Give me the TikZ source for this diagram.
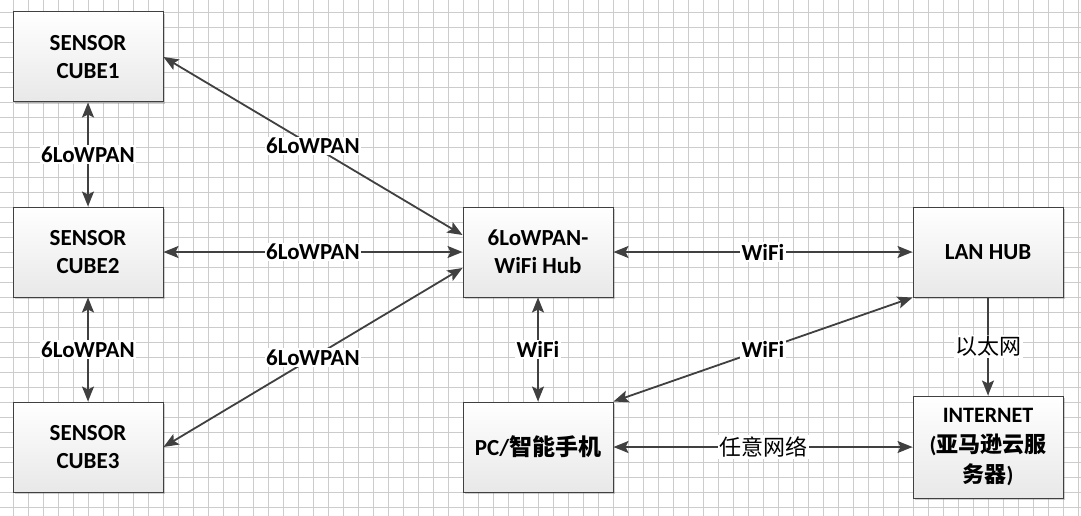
\documentclass[tikz,border=0pt]{standalone}
\usepackage{fontspec}
\setmainfont{Carlito}
\newfontfamily\cjk{Noto Sans CJK SC}
\usetikzlibrary{arrows.meta,shadows}

\tikzset{
  box/.style={draw=black!75, line width=1pt, top color=white, bottom color=black!9,
    minimum width=150pt, minimum height=90pt, inner sep=2pt, align=center,
    font=\fontsize{23}{28}\selectfont\bfseries,
    drop shadow={shadow xshift=2pt, shadow yshift=-2pt, opacity=0.3, fill=black!60}},
  link/.style={draw=black!75, line width=1.8pt},
  lbl/.style={fill=white, inner sep=1.5pt, text=black, font=\fontsize{23}{26}\selectfont\bfseries},
  cjklbl/.style={lbl, font=\fontsize{22}{26}\selectfont\cjk},
  gridline/.style={black!20, line width=0.5pt}
}

\begin{document}
\begin{tikzpicture}[x=1pt, y=-1pt, >={Stealth[length=15pt,width=12pt,inset=3pt]}]
  \useasboundingbox (0,0) rectangle (1081,516);
  \fill[white] (0,0) rectangle (1081,516);

  % grid
  \foreach \gx in {13,28,...,1078}
    \draw[gridline] (\gx,0) -- (\gx,516);
  \foreach \gy in {12,27,...,507}
    \draw[gridline] (0,\gy) -- (1081,\gy);

  % sensor cubes
  \node[box] (cube1) at (88,57) {SENSOR\\CUBE1};
  \node[box] (cube2) at (88,252) {SENSOR\\CUBE2};
  \node[box] (cube3) at (88,447) {SENSOR\\CUBE3};

  % hub and network side
  \node[box] (hub) at (538,252) {6LoWPAN-\\WiFi Hub};
  \node[box] (lan) at (988,252) {LAN HUB};
  \node[box] (pc) at (538,447) {PC/{\cjk\bfseries 智能手机}};
  \node[box, minimum height=102pt, font=\fontsize{22}{30}\selectfont\bfseries] (inet) at (988,447) {INTERNET\\({\cjk\bfseries 亚马逊云服}\\{\cjk\bfseries 务器})};

  % 6LoWPAN links
  \draw[link, <->] (cube1.south) -- (cube2.north) node[midway, lbl] {6LoWPAN};
  \draw[link, <->] (cube2.south) -- (cube3.north) node[midway, lbl] {6LoWPAN};
  \draw[link, <->] (cube1.east) -- ([yshift=17pt]hub.west) node[midway, lbl] {6LoWPAN};
  \draw[link, <->] (cube2.east) -- (hub.west) node[midway, lbl] {6LoWPAN};
  \draw[link, <->] (cube3.east) -- ([yshift=-16pt]hub.west) node[midway, lbl] {6LoWPAN};

  % WiFi links
  \draw[link, <->] (hub.east) -- (lan.west) node[midway, lbl] {WiFi};
  \draw[link, <->] (hub.south) -- (pc.north) node[midway, lbl] {WiFi};
  \draw[link, <->] (pc.north east) -- (lan.south west) node[midway, lbl] {WiFi};

  % internet
  \draw[link, ->] (lan.south) -- (inet.north) node[midway, cjklbl] {以太网};
  \draw[link, <->] (pc.east) -- (inet.west) node[midway, cjklbl] {任意网络};
\end{tikzpicture}
\end{document}
